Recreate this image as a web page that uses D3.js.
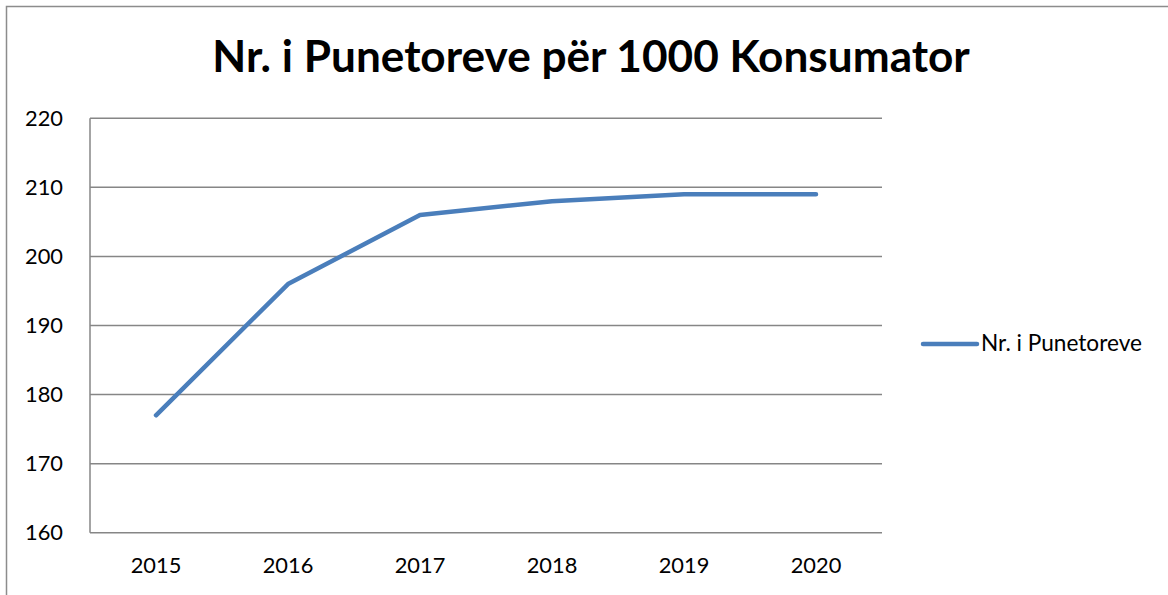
<!DOCTYPE html>
<html>
<head>
<meta charset="utf-8">
<script src="https://cdn.jsdelivr.net/npm/d3@7"></script>
<style>
  html, body { margin: 0; padding: 0; background: #fff; }
  svg { display: block; }
  text { font-family: Lato, "Liberation Sans", sans-serif; fill: #000; }
</style>
</head>
<body>
<svg id="chart" width="1168" height="595"></svg>
<script>
const title = "Nr. i Punetoreve për 1000 Konsumator";
const seriesName = "Nr. i Punetoreve";
const years = ["2015", "2016", "2017", "2018", "2019", "2020"];
const values = [177, 196, 206, 208, 209, 209];
const yTicks = [160, 170, 180, 190, 200, 210, 220];

const svg = d3.select("#chart");
const W = 1168, H = 595;
const plot = { left: 90, right: 882, top: 118.3, bottom: 532.7 };
const lineColor = "#4A7EBB";
const gridColor = "#868686";

// outer chart border
svg.append("rect")
  .attr("x", 6.5).attr("y", 6.5)
  .attr("width", W + 10).attr("height", H + 10)
  .attr("fill", "#fff").attr("stroke", "#8c8c8c").attr("stroke-width", 1.5);

const x = d3.scaleBand().domain(years).range([plot.left, plot.right]).padding(0);
const y = d3.scaleLinear().domain([160, 220]).range([plot.bottom, plot.top]);

function fit(sel, targetWidth, base) {
  sel.style("font-size", base + "px");
  const w = sel.node().getBBox().width;
  const fs = base * targetWidth / w;
  sel.style("font-size", fs + "px");
  return fs;
}

// gridlines
svg.append("g")
  .selectAll("line").data(yTicks.filter(d => d !== 160)).join("line")
  .attr("x1", plot.left).attr("x2", plot.right)
  .attr("y1", d => y(d)).attr("y2", d => y(d))
  .attr("stroke", gridColor).attr("stroke-width", 1.5);

// axes lines
svg.append("line")
  .attr("x1", plot.left).attr("x2", plot.left)
  .attr("y1", plot.top).attr("y2", plot.bottom)
  .attr("stroke", gridColor).attr("stroke-width", 1.5);
svg.append("line")
  .attr("x1", plot.left).attr("x2", plot.right)
  .attr("y1", plot.bottom).attr("y2", plot.bottom)
  .attr("stroke", gridColor).attr("stroke-width", 1.5);

// y axis labels
const yAxis = d3.axisLeft(y).tickValues(yTicks).tickSize(0).tickPadding(27);
const yg = svg.append("g").attr("transform", `translate(${plot.left},0)`).call(yAxis);
yg.select(".domain").remove();
const sampleY = yg.select(".tick text");
const fsY = fit(sampleY, 38, 20);
yg.selectAll(".tick text").style("font-size", fsY + "px").attr("fill", "#000")
  .style("font-family", 'Lato, "Liberation Sans", sans-serif');

// x axis labels
const xAxis = d3.axisBottom(x).tickSize(0).tickPadding(25);
const xg = svg.append("g").attr("transform", `translate(0,${plot.bottom})`).call(xAxis);
xg.select(".domain").remove();
xg.selectAll(".tick text").style("font-size", fsY + "px").attr("fill", "#000")
  .style("font-family", 'Lato, "Liberation Sans", sans-serif');

// line
const line = d3.line()
  .x((d, i) => x(years[i]) + x.bandwidth() / 2)
  .y(d => y(d));
svg.append("path")
  .datum(values)
  .attr("d", line)
  .attr("fill", "none")
  .attr("stroke", lineColor)
  .attr("stroke-width", 4.5)
  .attr("stroke-linecap", "round")
  .attr("stroke-linejoin", "round");

// title
const t = svg.append("text")
  .attr("x", 591).attr("y", 72)
  .attr("text-anchor", "middle")
  .style("font-weight", "bold")
  .text(title);
fit(t, 758, 40);

// legend
svg.append("line")
  .attr("x1", 923).attr("x2", 977)
  .attr("y1", 344).attr("y2", 344)
  .attr("stroke", lineColor).attr("stroke-width", 4.5)
  .attr("stroke-linecap", "round");
const lt = svg.append("text")
  .attr("x", 981).attr("y", 351)
  .text(seriesName);
fit(lt, 161, 18);
</script>
</body>
</html>
